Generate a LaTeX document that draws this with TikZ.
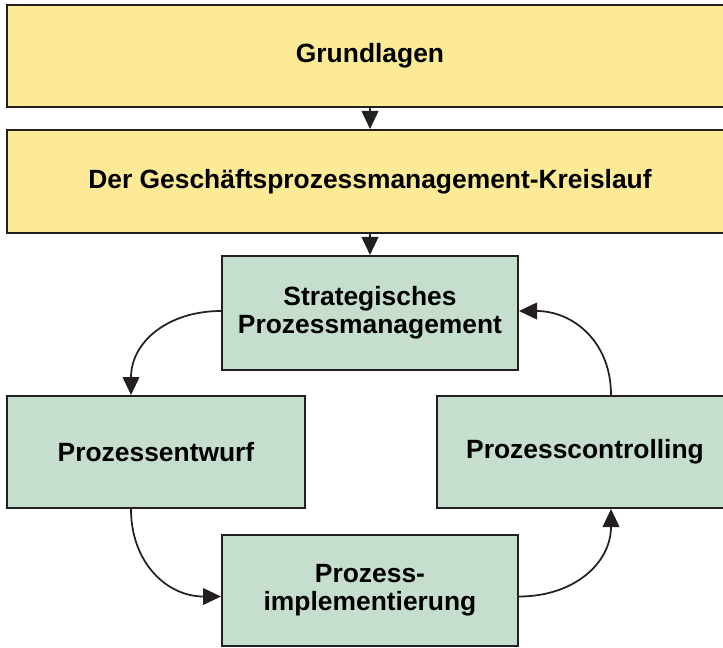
\documentclass[tikz,border=0pt]{standalone}
\usepackage{fontspec}
\setmainfont{Liberation Sans}
\usetikzlibrary{arrows,shapes,positioning}
\usetikzlibrary{arrows.meta}
\definecolor{phaseYellow}{RGB}{252,234,150}
\definecolor{phaseGreen}{RGB}{197,222,206}
\definecolor{frameGray}{RGB}{35,31,32}
\tikzstyle{phasebox}=[draw=frameGray, line width=1.5pt, inner sep=0pt, align=center, font=\fontsize{19.8}{21}\selectfont\bfseries]
\tikzstyle{yellowbox}=[phasebox, fill=phaseYellow, minimum width=544.5pt]
\tikzstyle{greenbox}=[phasebox, fill=phaseGreen, minimum width=222pt, minimum height=84pt]
\tikzstyle{phaseTransition}=[line width=1.3pt, draw=frameGray, -{Triangle[length=13.5pt,width=12.5pt]}]

\begin{document}
\begin{tikzpicture}[x=0.75pt, y=-0.75pt]
    \clip (0,0) rectangle (723,648);
    \node[yellowbox, minimum height=76.5pt] (basis) at (370, 56) {Grundlagen};
    \node[yellowbox, minimum height=77.25pt] (cycle) at (370, 181.5) {Der Geschäftsprozessmanagement-Kreislauf};
    \node[greenbox, minimum height=85.5pt] (strat) at (370, 313) {Strategisches\\Prozessmanagement};
    \node[greenbox, minimum width=223.5pt] (entwurf) at (156, 452) {Prozessentwurf};
    \node[greenbox] (control) at (585, 452) {Prozesscontrolling};
    \node[greenbox, minimum height=83.25pt] (impl) at (370, 590.5) {Prozess-\\implementierung};

    % Arcs
    \draw[phaseTransition] (basis) -- (cycle);
    \draw[phaseTransition] (cycle) -- (strat);
    \draw[phaseTransition] ([yshift=1.5pt]strat.west) to[out=180,in=90,looseness=1.1] ([xshift=-18.75pt]entwurf.north);
    \draw[phaseTransition] ([xshift=-18.75pt]entwurf.south) to[out=-90,in=180,looseness=1.1] ([yshift=-4.5pt]impl.west);
    \draw[phaseTransition] ([yshift=-4.5pt]impl.east) to[out=0,in=-90,looseness=1.1] ([xshift=19.5pt]control.south);
    \draw[phaseTransition] ([xshift=19.5pt]control.north) to[out=90,in=0,looseness=1.1] ([yshift=1.5pt]strat.east);

\end{tikzpicture}
\end{document}
